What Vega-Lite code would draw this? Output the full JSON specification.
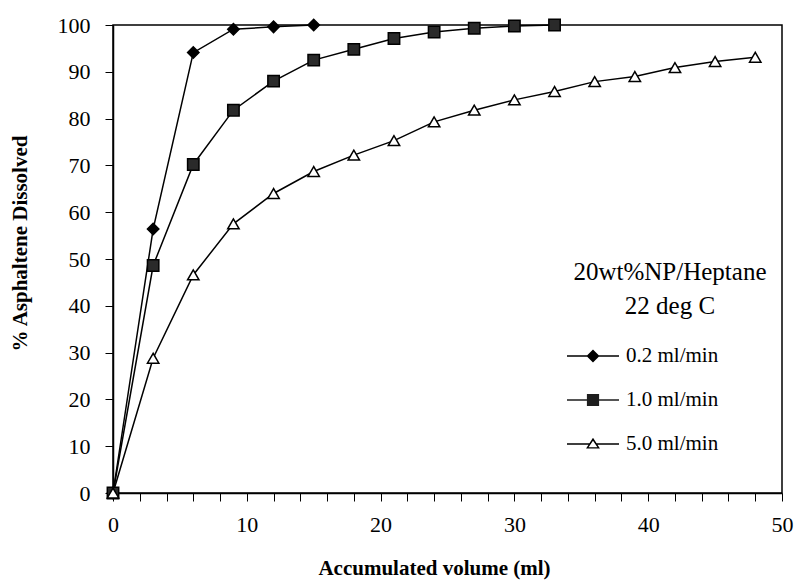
{
  "$schema": "https://vega.github.io/schema/vega-lite/v6.json",
  "width": 669,
  "height": 468,
  "autosize": {"type": "none"},
  "padding": {"left": 113, "top": 25, "right": 15, "bottom": 92},
  "background": "white",
  "config": {
    "font": "Liberation Serif",
    "view": {"stroke": "black", "strokeWidth": 1.5},
    "axis": {
      "domainColor": "black",
      "domainWidth": 1.5,
      "tickColor": "black",
      "tickWidth": 1,
      "tickSize": 8,
      "grid": false,
      "labelFont": "Liberation Serif",
      "labelFontSize": 22,
      "labelColor": "black",
      "titleFont": "Liberation Serif",
      "titleFontSize": 21,
      "titleFontWeight": "bold",
      "titleColor": "black"
    }
  },
  "data": {
    "values": [
      {"series": "0.2 ml/min", "volume": 0, "dissolved": 0},
      {"series": "0.2 ml/min", "volume": 3, "dissolved": 56.4},
      {"series": "0.2 ml/min", "volume": 6, "dissolved": 94.1},
      {"series": "0.2 ml/min", "volume": 9, "dissolved": 99.1},
      {"series": "0.2 ml/min", "volume": 12, "dissolved": 99.6},
      {"series": "0.2 ml/min", "volume": 15, "dissolved": 100},
      {"series": "1.0 ml/min", "volume": 0, "dissolved": 0},
      {"series": "1.0 ml/min", "volume": 3, "dissolved": 48.6},
      {"series": "1.0 ml/min", "volume": 6, "dissolved": 70.2},
      {"series": "1.0 ml/min", "volume": 9, "dissolved": 81.8},
      {"series": "1.0 ml/min", "volume": 12, "dissolved": 88},
      {"series": "1.0 ml/min", "volume": 15, "dissolved": 92.5},
      {"series": "1.0 ml/min", "volume": 18, "dissolved": 94.8},
      {"series": "1.0 ml/min", "volume": 21, "dissolved": 97.1},
      {"series": "1.0 ml/min", "volume": 24, "dissolved": 98.5},
      {"series": "1.0 ml/min", "volume": 27, "dissolved": 99.3},
      {"series": "1.0 ml/min", "volume": 30, "dissolved": 99.8},
      {"series": "1.0 ml/min", "volume": 33, "dissolved": 100},
      {"series": "5.0 ml/min", "volume": 0, "dissolved": 0},
      {"series": "5.0 ml/min", "volume": 3, "dissolved": 28.8},
      {"series": "5.0 ml/min", "volume": 6, "dissolved": 46.6},
      {"series": "5.0 ml/min", "volume": 9, "dissolved": 57.5},
      {"series": "5.0 ml/min", "volume": 12, "dissolved": 64},
      {"series": "5.0 ml/min", "volume": 15, "dissolved": 68.7},
      {"series": "5.0 ml/min", "volume": 18, "dissolved": 72.2},
      {"series": "5.0 ml/min", "volume": 21, "dissolved": 75.3},
      {"series": "5.0 ml/min", "volume": 24, "dissolved": 79.3},
      {"series": "5.0 ml/min", "volume": 27, "dissolved": 81.8},
      {"series": "5.0 ml/min", "volume": 30, "dissolved": 84},
      {"series": "5.0 ml/min", "volume": 33, "dissolved": 85.8},
      {"series": "5.0 ml/min", "volume": 36, "dissolved": 87.9},
      {"series": "5.0 ml/min", "volume": 39, "dissolved": 89},
      {"series": "5.0 ml/min", "volume": 42, "dissolved": 90.9},
      {"series": "5.0 ml/min", "volume": 45, "dissolved": 92.2},
      {"series": "5.0 ml/min", "volume": 48, "dissolved": 93.1}
    ]
  },
  "encoding": {
    "x": {
      "field": "volume",
      "type": "quantitative",
      "scale": {"domain": [0, 50], "nice": false, "zero": false},
      "axis": {
        "title": "Accumulated volume (ml)",
        "values": [0, 2, 4, 6, 8, 10, 12, 14, 16, 18, 20, 22, 24, 26, 28, 30, 32, 34, 36, 38, 40, 42, 44, 46, 48, 50],
        "labelExpr": "datum.value % 10 === 0 ? datum.label : ''",
        "labelPadding": 13,
        "labelFlush": false,
        "labelOverlap": false,
        "titleX": 321,
        "titleY": 75,
        "titleBaseline": "middle",
        "titleAlign": "center"
      }
    },
    "y": {
      "field": "dissolved",
      "type": "quantitative",
      "scale": {"domain": [0, 100], "nice": false},
      "axis": {
        "title": "% Asphaltene Dissolved",
        "values": [0, 10, 20, 30, 40, 50, 60, 70, 80, 90, 100],
        "labelPadding": 15,
        "labelFlush": false,
        "labelOverlap": false,
        "titleAngle": -90,
        "titleX": -93,
        "titleY": 218,
        "titleAlign": "center",
        "titleBaseline": "middle"
      }
    }
  },
  "resolve": {"scale": {"shape": "independent", "fill": "independent"}},
  "layer": [
    {
      "mark": {"type": "line", "color": "black", "strokeWidth": 1.5},
      "encoding": {"detail": {"field": "series"}}
    },
    {
      "mark": {"type": "point", "filled": false, "size": 130, "stroke": "black", "strokeWidth": 1.5, "opacity": 1},
      "encoding": {
        "shape": {
          "field": "series",
          "type": "nominal",
          "scale": {
            "domain": ["0.2 ml/min", "1.0 ml/min", "5.0 ml/min"],
            "range": ["diamond", "square", "triangle-up"]
          },
          "legend": null
        },
        "fill": {
          "field": "series",
          "type": "nominal",
          "scale": {
            "domain": ["0.2 ml/min", "1.0 ml/min", "5.0 ml/min"],
            "range": ["black", "#2a2a2a", "white"]
          },
          "legend": null
        }
      }
    },
    {
      "mark": {"type": "point", "filled": true, "size": 0, "opacity": 1},
      "encoding": {
        "shape": {
          "field": "series",
          "type": "nominal",
          "scale": {
            "domain": ["0.2 ml/min", "1.0 ml/min", "5.0 ml/min"],
            "range": [
              "M-1.24,-0.036H1.24V0.036H-1.24ZM0,-0.31L0.31,0L0,0.31L-0.31,0ZM8.3,0",
              "M-1.24,-0.036H1.24V0.036H-1.24ZM-0.29,-0.29H0.29V0.29H-0.29ZM8.3,0",
              "M-1.24,-0.036H-0.17V0.036H-1.24ZM0.17,-0.036H1.24V0.036H0.17ZM0,-0.3L0.33,0.22H-0.33ZM0,-0.16L-0.21,0.15H0.21ZM8.3,0"
            ]
          },
          "legend": {
            "title": ["20wt%NP/Heptane", "22 deg C"],
            "orient": "none",
            "legendX": 459,
            "legendY": 235,
            "padding": 0,
            "titleFont": "Liberation Serif",
            "titleFontSize": 25,
            "titleFontWeight": "normal",
            "titleColor": "black",
            "titleLineHeight": 34,
            "titleLimit": 400,
            "titleAnchor": "middle",
            "titleAlign": "center",
            "titlePadding": 16,
            "labelFont": "Liberation Serif",
            "labelFontSize": 21,
            "labelColor": "black",
            "labelOffset": 12,
            "symbolSize": 1764,
            "symbolOpacity": 1,
            "symbolStrokeWidth": 0,
            "rowPadding": 13
          }
        },
        "fill": {
          "field": "series",
          "type": "nominal",
          "scale": {
            "domain": ["0.2 ml/min", "1.0 ml/min", "5.0 ml/min"],
            "range": ["black", "#1e1e1e", "black"]
          },
          "legend": {
            "title": ["20wt%NP/Heptane", "22 deg C"],
            "orient": "none",
            "legendX": 459,
            "legendY": 235
          }
        }
      }
    }
  ]
}
